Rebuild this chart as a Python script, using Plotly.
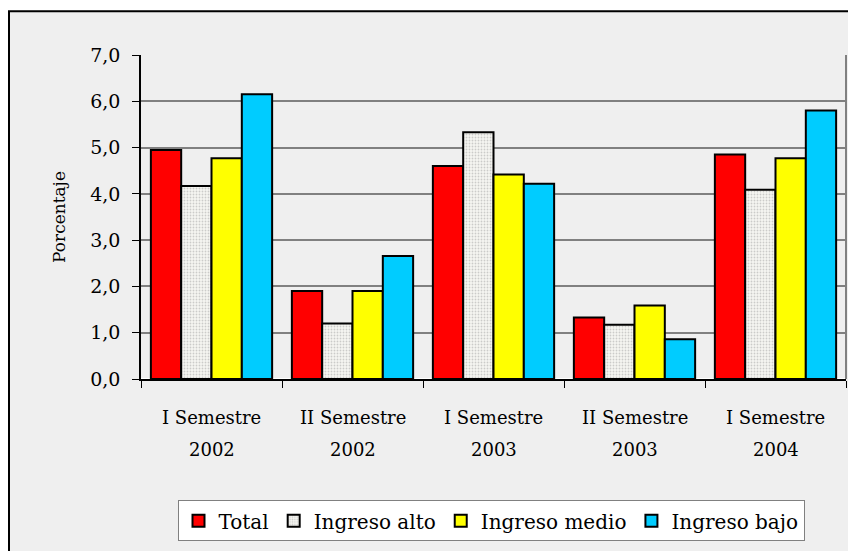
import plotly.graph_objects as go

semestres = ["I Semestre", "II Semestre", "I Semestre", "II Semestre", "I Semestre"]
anios = ["2002", "2002", "2003", "2003", "2004"]
categories = [f"{s} {a}" for s, a in zip(semestres, anios)]
total = [4.95, 1.90, 4.60, 1.33, 4.85]
ingreso_alto = [4.17, 1.20, 5.33, 1.17, 4.09]
ingreso_medio = [4.77, 1.90, 4.42, 1.59, 4.77]
ingreso_bajo = [6.15, 2.66, 4.22, 0.86, 5.80]
y_ticks = [0, 1, 2, 3, 4, 5, 6, 7]

FONT = "DejaVu Serif"
fig = go.Figure()
line = dict(color="black", width=2)
fig.add_bar(name="Total", x=categories, y=total, marker=dict(color="#ff0000", line=line))
fig.add_bar(name="Ingreso alto", x=categories, y=ingreso_alto,
            marker=dict(color="#f4f4f0", line=line,
                        pattern=dict(shape=".", size=3, solidity=0.3,
                                     fgcolor="#a0a0a0", bgcolor="#f6f6f2", fillmode="overlay")))
fig.add_bar(name="Ingreso medio", x=categories, y=ingreso_medio, marker=dict(color="#ffff00", line=line))
fig.add_bar(name="Ingreso bajo", x=categories, y=ingreso_bajo, marker=dict(color="#00ccff", line=line))

# page has 8px body margin: figure sized so it ends at the window edge
OFF = 8
W, H = 856 - OFF, 551 - OFF
L, R, T, B = 141 - OFF, 10, 55 - OFF, 551 - 381
pw, ph = W - L - R, H - T - B


def px(x):
    return (x - OFF - L) / pw


def py(y):
    return (H - B - (y - OFF)) / ph


annotations = []
for c, s, a in zip(categories, semestres, anios):
    annotations.append(dict(x=c, xref="x", y=py(420), yref="paper", text=s, showarrow=False,
                            xanchor="center", yanchor="middle", font=dict(family=FONT, size=18)))
    annotations.append(dict(x=c, xref="x", y=py(452), yref="paper", text=a, showarrow=False,
                            xanchor="center", yanchor="middle", font=dict(family=FONT, size=18)))

fig.update_layout(
    width=W, height=H,
    margin=dict(l=L, r=R, t=T, b=B),
    paper_bgcolor="white",
    plot_bgcolor="white",
    barmode="group",
    bargap=0.14,
    bargroupgap=0,
    separators=",.",
    font=dict(family=FONT, size=17, color="black"),
    showlegend=True,
    legend=dict(orientation="h", x=px(491), xanchor="center", y=py(503), yanchor="top",
                bgcolor="white", bordercolor="#808080", borderwidth=1,
                font=dict(family=FONT, size=20), itemsizing="constant", tracegroupgap=0),
    annotations=annotations,
    shapes=[dict(type="rect", xref="paper", yref="paper", layer="below",
                 x0=px(9), x1=px(900), y0=py(600), y1=py(11),
                 fillcolor="#efefef", line=dict(color="black", width=2)),
            dict(type="line", xref="paper", yref="paper", x0=1, x1=1, y0=0, y1=1,
                 line=dict(color="#808080", width=2))],
    xaxis=dict(tickson="boundaries", ticks="outside", ticklen=7, tickcolor="black",
               showline=True, linecolor="black", linewidth=1.5, mirror=False,
               showticklabels=False, showgrid=False),
    yaxis=dict(range=[0, 7], tickvals=y_ticks, tickformat=".1f", ticks="outside", ticklen=7,
               tickcolor="black", showline=True, linecolor="black", linewidth=1.5,
               gridcolor="#808080", gridwidth=1.5, ticklabelstandoff=8,
               tickfont=dict(family=FONT, size=19),
               title=dict(text="Porcentaje", font=dict(family=FONT, size=17), standoff=20)),
)
fig.write_html("out.html")
